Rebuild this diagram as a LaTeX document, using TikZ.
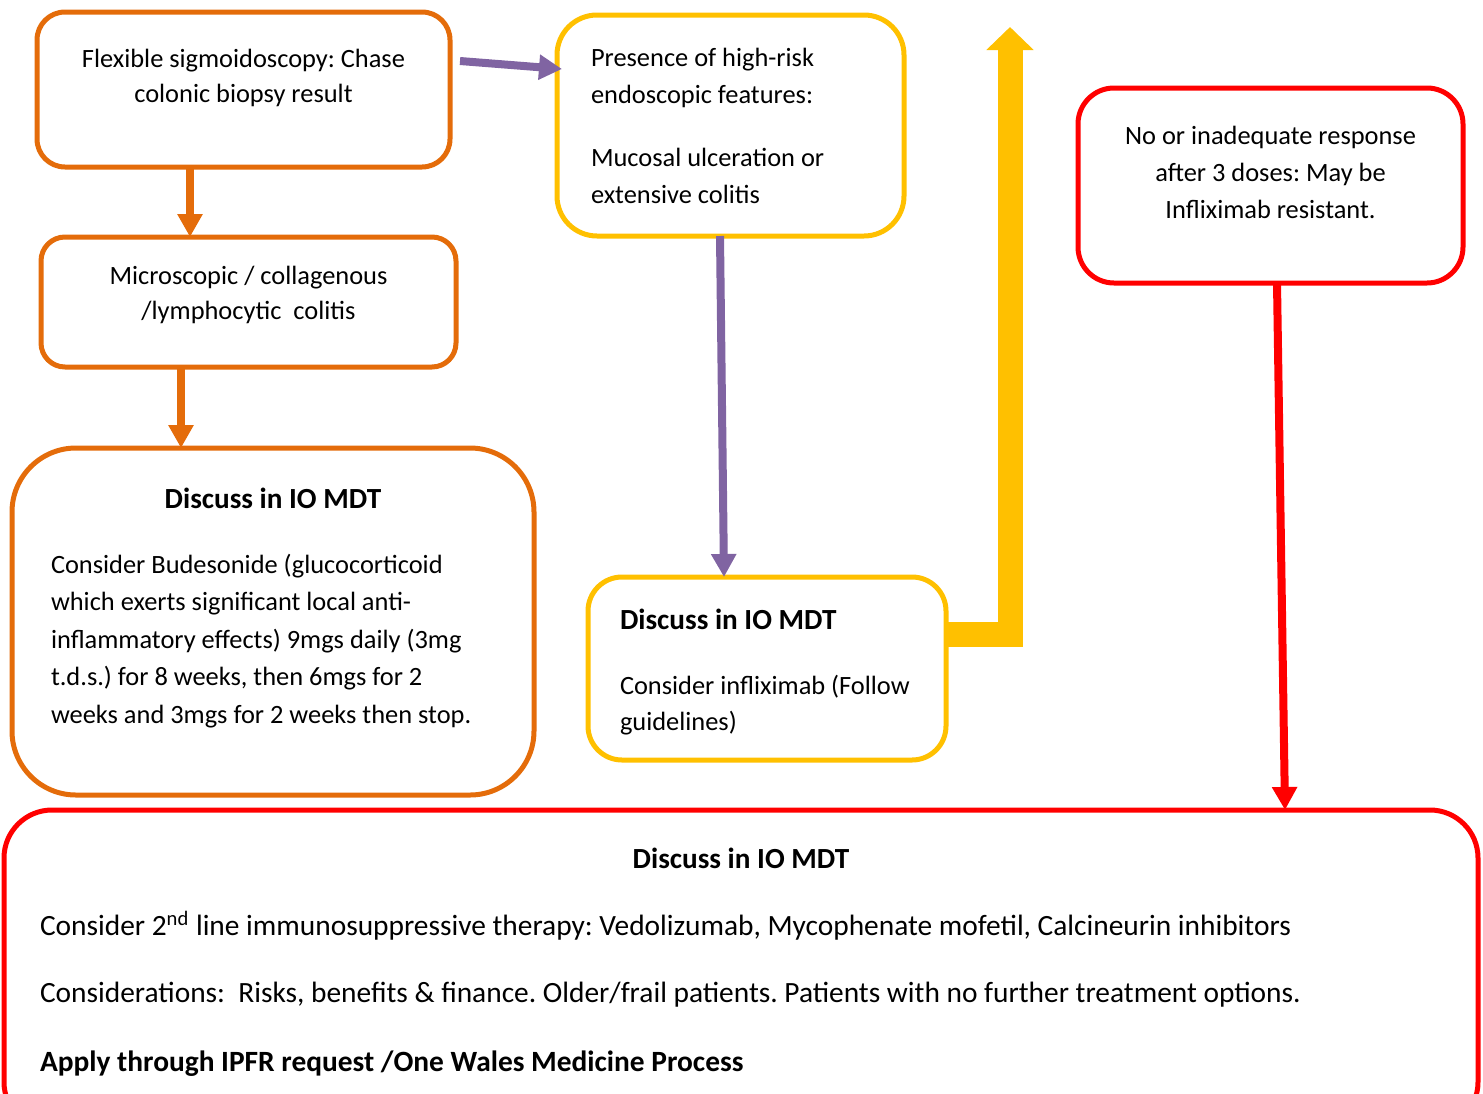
\documentclass[tikz,border=0pt]{standalone}
\usepackage{fontspec}
\setmainfont{Carlito}
\usepackage{xcolor}
\usetikzlibrary{arrows.meta,positioning}
\definecolor{boxorange}{HTML}{E46C0A}
\definecolor{boxyellow}{HTML}{FFC000}
\definecolor{boxred}{HTML}{FF0000}
\definecolor{arrowpurple}{HTML}{8064A2}
\frenchspacing

\begin{document}
\begin{tikzpicture}[x=0.5pt,y=-0.5pt,>={Triangle[width=12pt,length=11.5pt]},
    box/.style={draw,line width=2.5pt,inner sep=0pt,outer sep=0pt},
    orangebox/.style={box,draw=boxorange},
    yellowbox/.style={box,draw=boxyellow},
    redbox/.style={box,draw=boxred},
    txt/.style={inner sep=0pt,outer sep=0pt,font=\fontsize{13.2}{17.5}\selectfont},
    title/.style={txt,font=\fontsize{14.6}{17.5}\selectfont\bfseries},
    arr/.style={->,line width=4pt}]
    %% node
    \useasboundingbox (0,0) rectangle (1483,1093);
    \node (0) [orangebox,rounded corners=14pt,minimum width=206.5pt,minimum height=77.5pt] at (243.5,89.5) {};
    \node (1) [orangebox,rounded corners=12pt,minimum width=207.5pt,minimum height=65pt] at (248.5,302) {};
    \node (2) [orangebox,rounded corners=32pt,minimum width=261pt,minimum height=173.5pt] at (273,621.5) {};
    \node (3) [yellowbox,rounded corners=20pt,minimum width=173.5pt,minimum height=110.5pt] at (730.5,125.5) {};
    \node (4) [yellowbox,rounded corners=17pt,minimum width=179pt,minimum height=91.5pt] at (767,668.5) {};
    \node (5) [redbox,rounded corners=18pt,minimum width=192.5pt,minimum height=97.5pt] at (1270.5,185.5) {};
    \node (6) [redbox,rounded corners=24pt,minimum width=737pt,minimum height=160pt] at (741,970) {};
    % texts
    \node (0t) [txt,align=center,below=18.5pt of 0.north] {Flexible sigmoidoscopy: Chase\\colonic biopsy result};
    \node (1t) [txt,align=center,below=14.5pt of 1.north] {Microscopic / collagenous\\/lymphocytic\ \ colitis};
    \node (2t) [title,below=20pt of 2.north] {Discuss in IO MDT};
    \node (2b) [txt,align=left,font=\fontsize{13.2}{18.75}\selectfont,below right=53pt and 19.5pt of 2.north west]
      {Consider Budesonide (glucocorticoid\\
       which exerts significant local anti-\\
       inflammatory effects) 9mgs daily (3mg\\
       t.d.s.) for 8 weeks, then 6mgs for 2\\
       weeks and 3mgs for 2 weeks then stop.};
    \node (3t) [txt,align=left,font=\fontsize{13.2}{18.5}\selectfont,below right=16.5pt and 17pt of 3.north west]
      {Presence of high-risk\\
       endoscopic features:\\[13pt]
       Mucosal ulceration or\\
       extensive colitis};
    \node (4t) [txt,align=left,font=\fontsize{13.2}{18}\selectfont,below right=16pt and 16pt of 4.north west]
      {{\fontsize{14.6}{18}\selectfont\bfseries Discuss in IO MDT}\\[14.5pt]
       Consider infliximab (Follow\\
       guidelines)};
    \node (5t) [txt,align=center,font=\fontsize{13.2}{18.5}\selectfont,below=19pt of 5.north]
      {No or inadequate response\\
       after 3 doses: May be\\
       Infliximab resistant.};
    \node (6t) [title,below=19pt of 6.north] {Discuss in IO MDT};
    \node (6b) [txt,align=left,font=\fontsize{14.7}{17.5}\selectfont,below right=50.5pt and 18pt of 6.north west]
      {Consider 2\textsuperscript{nd} line immunosuppressive therapy: Vedolizumab, Mycophenate mofetil, Calcineurin inhibitors\\[16pt]
       Considerations:\ \ Risks, benefits \& finance. Older/frail patients. Patients with no further treatment options.\\[17pt]
       \textbf{Apply through IPFR request /One Wales Medicine Process}};
    \coordinate (bend) at (1010,634.5);
    \coordinate (up) at (1010,27);
    %% path
    \draw[arr,boxorange] ([xshift=-26.75pt]0.south) -- ([xshift=-29.25pt]1.north);
    \draw[arr,boxorange] ([xshift=-33.75pt]1.south) -- ([xshift=-46pt]2.north);
    \draw[arr,arrowpurple] ([xshift=5pt,yshift=14.25pt]0.east) -- ([xshift=2.5pt,yshift=28.25pt]3.west);
    \draw[arr,arrowpurple] ([xshift=-5.25pt]3.south) -- ([xshift=-21.5pt]4.north);
    \draw[arr,boxred] ([xshift=3.25pt]5.south) -- ([xshift=272pt]6.north);
    \draw[boxyellow,line width=12.5pt,line join=miter,-{Triangle[width=23pt,length=11.5pt]}]
      (4.east |- bend) -- (bend) -- (up);
\end{tikzpicture}
\end{document}
